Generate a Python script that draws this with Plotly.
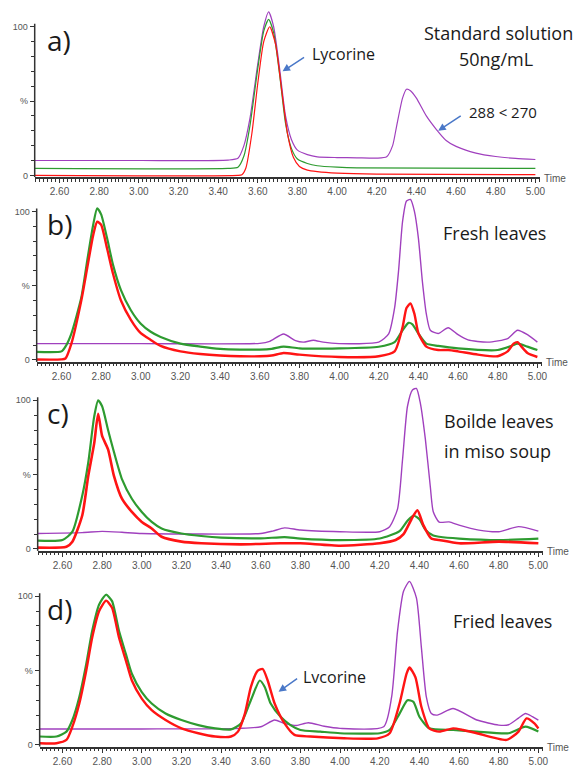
import plotly.graph_objects as go

# ---------------- data (retention time in min, relative intensity %) ----------------
# Panel a) Standard solution
A_T_PURPLE = [2.475, 3.00, 3.45, 3.50, 3.53, 3.56, 3.60, 3.63, 3.655, 3.68, 3.71, 3.74, 3.77, 3.80, 3.85, 3.90, 4.00, 4.10, 4.20, 4.25, 4.28, 4.30, 4.33, 4.35, 4.37, 4.40, 4.45, 4.50, 4.55, 4.60, 4.70, 4.80, 4.90, 5.00]
A_PURPLE = [10, 10, 10.3, 11.5, 20, 38, 75, 100, 110, 100, 72, 40, 24, 17, 14, 12.5, 12, 11.8, 11.6, 12.5, 20, 33, 52, 58, 57, 52, 40, 31, 23.5, 19.5, 15, 12.7, 11.4, 10.7]
A_T_GREEN = [2.475, 3.45, 3.50, 3.53, 3.56, 3.60, 3.63, 3.655, 3.68, 3.71, 3.74, 3.77, 3.80, 3.85, 3.90, 4.00, 4.10, 5.00]
A_GREEN = [4.7, 4.7, 5.5, 13, 33, 72, 97, 105, 96, 68, 35, 18, 11, 8, 6.5, 5.5, 5, 4.7]
A_T_RED = [2.475, 3.50, 3.52, 3.54, 3.57, 3.60, 3.63, 3.66, 3.69, 3.72, 3.75, 3.78, 3.81, 3.85, 3.90, 4.00, 4.20, 5.00]
A_RED = [0, 0, 0.5, 5, 28, 62, 90, 100, 88, 58, 28, 12, 6, 3.5, 2.5, 1.5, 0.8, 0.5]

# Panel b) Fresh leaves
B_T_PURPLE = [2.47, 3.00, 3.60, 3.65, 3.72, 3.78, 3.82, 3.87, 3.92, 4.00, 4.20, 4.25, 4.28, 4.30, 4.32, 4.34, 4.36, 4.38, 4.40, 4.42, 4.44, 4.46, 4.50, 4.55, 4.60, 4.65, 4.75, 4.85, 4.90, 4.95, 5.00]
B_PURPLE = [11, 11, 11.2, 12.5, 17.5, 13, 12, 13.3, 12, 11, 12, 17.5, 35, 60, 93, 107, 108, 100, 82, 53, 31, 20, 17.8, 21.7, 17, 13.5, 12, 14.4, 20, 17, 12]
B_T_GREEN = [2.47, 2.60, 2.62, 2.65, 2.70, 2.73, 2.76, 2.78, 2.80, 2.83, 2.86, 2.90, 2.95, 3.00, 3.05, 3.10, 3.20, 3.30, 3.40, 3.50, 3.60, 3.66, 3.72, 3.80, 4.00, 4.20, 4.28, 4.32, 4.35, 4.37, 4.40, 4.44, 4.50, 4.60, 4.80, 4.87, 4.90, 4.95, 5.00]
B_GREEN = [5.5, 5.8, 9, 17.8, 42, 67, 91, 102, 98, 82, 64, 47, 33.5, 24.4, 19, 15.5, 11, 9, 7.5, 7, 7, 7.5, 9, 7.8, 7.8, 8.9, 12, 20, 25, 24, 17.8, 11, 9.5, 7.8, 6.7, 9.5, 11, 9, 6.7]
B_T_RED = [2.47, 2.60, 2.62, 2.65, 2.70, 2.73, 2.76, 2.78, 2.80, 2.83, 2.86, 2.90, 2.95, 3.00, 3.05, 3.10, 3.20, 3.30, 3.40, 3.50, 3.60, 3.66, 3.72, 3.80, 4.00, 4.20, 4.28, 4.32, 4.34, 4.36, 4.38, 4.40, 4.44, 4.50, 4.55, 4.60, 4.70, 4.80, 4.85, 4.88, 4.90, 4.92, 4.95, 5.00]
B_RED = [0.3, 0.4, 1, 11, 40, 62, 84, 93, 91, 75, 58, 40, 27, 18, 13.5, 9.5, 5.8, 4, 3, 2.5, 2.5, 3, 4.7, 3.6, 2, 2.5, 5.8, 22, 35, 38, 31, 18, 9, 6.7, 6.7, 5.8, 3.6, 2.5, 5.8, 11, 12, 9, 4.7, 2]

# Panel c) Boiled leaves in miso soup
C_T_PURPLE = [2.475, 2.70, 2.80, 2.90, 3.00, 3.60, 3.66, 3.72, 3.80, 4.00, 4.20, 4.25, 4.29, 4.315, 4.34, 4.365, 4.385, 4.405, 4.43, 4.455, 4.47, 4.50, 4.55, 4.60, 4.70, 4.80, 4.90, 5.00]
C_PURPLE = [10.4, 11, 11.8, 11.2, 10.4, 10.4, 12, 14.2, 12.7, 11.6, 11.6, 15, 27, 60, 96, 107, 108, 98, 74, 42, 25, 18, 18.2, 16, 12.7, 11.6, 15, 12]
C_T_GREEN = [2.475, 2.60, 2.65, 2.70, 2.73, 2.76, 2.78, 2.80, 2.83, 2.86, 2.90, 2.95, 3.00, 3.05, 3.10, 3.20, 3.30, 3.40, 3.60, 3.72, 3.80, 4.00, 4.20, 4.30, 4.34, 4.37, 4.40, 4.43, 4.47, 4.50, 4.60, 4.80, 5.00]
C_GREEN = [5.6, 6, 11.6, 36, 58, 89, 100, 96, 80, 65, 47, 33.8, 24.9, 18.2, 13.8, 10.4, 8.7, 7.6, 7.1, 8, 7, 6, 7, 12, 19, 22.5, 20, 13, 9, 8.2, 7, 6, 7]
C_T_RED = [2.475, 2.62, 2.65, 2.70, 2.73, 2.76, 2.78, 2.80, 2.83, 2.86, 2.90, 2.95, 3.00, 3.05, 3.10, 3.20, 3.30, 3.50, 3.70, 3.80, 4.00, 4.20, 4.28, 4.32, 4.36, 4.39, 4.42, 4.46, 4.50, 4.60, 4.80, 5.00]
C_RED = [0.9, 1.5, 4.9, 22.7, 49, 71, 91, 76, 67, 49, 33.8, 24.9, 18.2, 13.8, 8.2, 4.9, 3.8, 3.1, 3.8, 3.8, 2.2, 3.8, 6, 10, 20, 26, 16, 7, 6, 3.8, 4.9, 3.8]

# Panel d) Fried leaves
D_T_PURPLE = [2.485, 3.00, 3.50, 3.60, 3.67, 3.72, 3.78, 3.84, 3.92, 4.00, 4.22, 4.26, 4.29, 4.32, 4.35, 4.385, 4.41, 4.435, 4.46, 4.49, 4.57, 4.69, 4.80, 4.85, 4.90, 4.935, 4.97, 5.00]
D_PURPLE = [10.7, 10.7, 11.1, 12.2, 16.7, 14.4, 13, 14.9, 12.5, 11.1, 12.2, 32.2, 76.7, 103.3, 110, 98.9, 65.6, 32.2, 21.1, 20, 24.4, 16.7, 13.3, 13.5, 18, 21.1, 19, 16.7]
D_T_GREEN = [2.485, 2.57, 2.62, 2.65, 2.685, 2.72, 2.75, 2.785, 2.82, 2.85, 2.885, 2.92, 2.95, 3.00, 3.05, 3.12, 3.20, 3.285, 3.37, 3.45, 3.50, 3.55, 3.595, 3.62, 3.65, 3.70, 3.75, 3.80, 3.90, 4.00, 4.20, 4.25, 4.30, 4.34, 4.37, 4.40, 4.45, 4.57, 4.69, 4.85, 4.935, 5.00]
D_GREEN = [5.6, 5.6, 8.9, 16.7, 32.2, 54.4, 76.7, 94.4, 101, 96.7, 76.7, 61, 47.8, 35.5, 27.8, 21.1, 16.7, 13.3, 11.1, 10.4, 14.4, 30, 43.3, 38.9, 27.8, 18.9, 13.3, 10, 8.9, 7.8, 7.8, 10, 21, 30, 28.9, 18.9, 11.1, 10, 8.9, 7.8, 12.2, 8.9]
D_T_RED = [2.485, 2.57, 2.62, 2.65, 2.685, 2.72, 2.75, 2.785, 2.82, 2.85, 2.885, 2.92, 2.95, 3.00, 3.05, 3.12, 3.20, 3.285, 3.37, 3.45, 3.485, 3.52, 3.55, 3.585, 3.61, 3.635, 3.67, 3.72, 3.77, 3.85, 4.02, 4.19, 4.25, 4.30, 4.335, 4.35, 4.38, 4.41, 4.45, 4.50, 4.57, 4.62, 4.69, 4.84, 4.90, 4.94, 4.98, 5.00]
D_RED = [1.1, 1.1, 3.3, 12.2, 27.8, 50, 72.2, 90, 97, 92.2, 72.2, 56.7, 43.3, 31.1, 23.3, 16.7, 11.1, 7.8, 5.6, 5.6, 8.9, 21, 38.9, 50, 51, 43.3, 27.8, 14.4, 6.7, 5.6, 4.4, 4.4, 7.8, 27.8, 47.8, 52, 45.5, 25.6, 11.1, 8.9, 11.1, 10, 7.8, 3.3, 8.9, 17.8, 14.4, 11]

PANEL_LABELS = ["a)", "b)", "c)", "d)"]
X_TICK_VALUES = [2.60, 2.80, 3.00, 3.20, 3.40, 3.60, 3.80, 4.00, 4.20, 4.40, 4.60, 4.80, 5.00]
Y_TICK_VALUES = [0, 50, 100]
Y_TICK_TEXT = ["0", "%", "100"]

# ---------------- layout helpers ----------------
W, H = 585, 767
PURPLE = "#A040BE"
GREEN = "#2E9B30"
RED = "#FF1414"
AXC = "#333333"
TICKFONT = dict(family="Liberation Sans Narrow, Arial Narrow, Liberation Sans, Arial", size=10, color="#555555")
TXTFONT = "Open Sans, Lato, sans-serif"

def px_x(p):
    return p / W

def px_y(p):
    return 1 - p / H

# per panel: (x domain in px, x range, y-zero pixel)
PANELS = [
    ((35, 545), (2.475, 5.025), 177.0),
    ((37, 547), (2.475, 5.025), 363.3),
    ((38, 548), (2.475, 5.025), 554.0),
    ((40, 548), (2.485, 5.025), 751.7),
]
SCALE = 1.5  # px per % unit
Y_MIN, Y_MAX = -1.3, 112

SERIES = [
    [(A_T_PURPLE, A_PURPLE, PURPLE, 1.2), (A_T_GREEN, A_GREEN, GREEN, 1.2), (A_T_RED, A_RED, RED, 1.2)],
    [(B_T_PURPLE, B_PURPLE, PURPLE, 1.4), (B_T_GREEN, B_GREEN, GREEN, 2.2), (B_T_RED, B_RED, RED, 2.4)],
    [(C_T_PURPLE, C_PURPLE, PURPLE, 1.4), (C_T_GREEN, C_GREEN, GREEN, 2.2), (C_T_RED, C_RED, RED, 2.6)],
    [(D_T_PURPLE, D_PURPLE, PURPLE, 1.4), (D_T_GREEN, D_GREEN, GREEN, 2.2), (D_T_RED, D_RED, RED, 2.4)],
]

fig = go.Figure()
layout = dict(
    width=W, height=H, autosize=False,
    margin=dict(l=0, r=0, t=0, b=0),
    paper_bgcolor="white", plot_bgcolor="white",
    showlegend=False,
)
shapes = []
annotations = []

for i, ((xd0, xd1), xr, y0px) in enumerate(PANELS):
    n = "" if i == 0 else str(i + 1)
    xa, ya = "x" + n, "y" + n
    for t, v, col, w in SERIES[i]:
        fig.add_trace(go.Scatter(x=t, y=v, mode="lines", xaxis=xa, yaxis=ya,
                                 line=dict(color=col, width=w, shape="spline", smoothing=0.6),
                                 hoverinfo="skip"))
    bottom_px = y0px - Y_MIN * SCALE
    top_px = y0px - Y_MAX * SCALE
    layout["xaxis" + n] = dict(
        domain=[px_x(xd0), px_x(xd1)], range=list(xr), anchor=ya,
        showline=True, linecolor=AXC, linewidth=1.5, showgrid=False, zeroline=False,
        tickvals=X_TICK_VALUES, tickformat=".2f", ticks="outside", ticklen=4, tickwidth=1,
        tickcolor=AXC, tickfont=TICKFONT,
        minor=dict(dtick=0.02, tick0=2.6, ticks="outside", ticklen=2.5, tickcolor=AXC, tickwidth=0.8),
        fixedrange=True,
    )
    layout["yaxis" + n] = dict(
        domain=[px_y(bottom_px), px_y(top_px)], range=[Y_MIN, Y_MAX], anchor=xa,
        showline=False, showgrid=False, zeroline=False,
        tickvals=Y_TICK_VALUES, ticktext=Y_TICK_TEXT, ticks="outside", ticklen=4,
        tickcolor=AXC, tickfont=dict(TICKFONT, size=9),
        minor=dict(tickvals=[10, 20, 30, 40, 60, 70, 80, 90], ticks="outside", ticklen=2.5,
                   tickcolor=AXC, tickwidth=0.8),
        fixedrange=True,
    )
    shapes.append(dict(type="line", xref=xa + " domain", yref=ya, x0=0, x1=0, y0=Y_MIN, y1=102,
                       line=dict(color=AXC, width=1.5)))
    # panel letter
    annotations.append(dict(text=PANEL_LABELS[i], xref="paper", yref="paper",
                            x=px_x(45), y=px_y(y0px - 137), xanchor="left", yanchor="middle",
                            showarrow=False, font=dict(family=TXTFONT, size=28, color="#1a1a1a")))
    # "Time" label
    annotations.append(dict(text="Time", xref="paper", yref="paper",
                            x=px_x(xd1 + 2), y=px_y(y0px + 3), xanchor="left", yanchor="middle",
                            showarrow=False, font=dict(TICKFONT, size=10)))

def label(text, x, y, size=17, anchor="center"):
    annotations.append(dict(text=text, xref="paper", yref="paper", x=px_x(x), y=px_y(y),
                            xanchor=anchor, yanchor="middle", showarrow=False,
                            font=dict(family=TXTFONT, size=size, color="#1a1a1a")))

def arrow(hx, hy, tx, ty):
    annotations.append(dict(text="", xref="paper", yref="paper", x=px_x(hx), y=px_y(hy),
                            ax=tx - hx, ay=ty - hy, axref="pixel", ayref="pixel",
                            showarrow=True, arrowhead=2, arrowsize=1, arrowwidth=1.5,
                            arrowcolor="#4A78C8"))

label("Standard solution", 503, 33, size=18)
label("50ng/mL", 500, 60, size=18)
label("Lycorine", 346, 55, size=16)
arrow(285, 72, 308, 57)
label("288 &lt; 270", 507, 113, size=15)
arrow(442, 132, 466, 116)
label("Fresh leaves", 499, 235, size=18)
label("Boilde leaves", 446, 425, size=18, anchor="left")
label("in miso soup", 446, 455, size=18, anchor="left")
label("Fried leaves", 507, 627, size=18)
label("Lvcorine", 337, 683, size=16)
arrow(281, 698, 301, 684)

layout["shapes"] = shapes
layout["annotations"] = annotations
fig.update_layout(**layout)
fig.write_html("out.html")
